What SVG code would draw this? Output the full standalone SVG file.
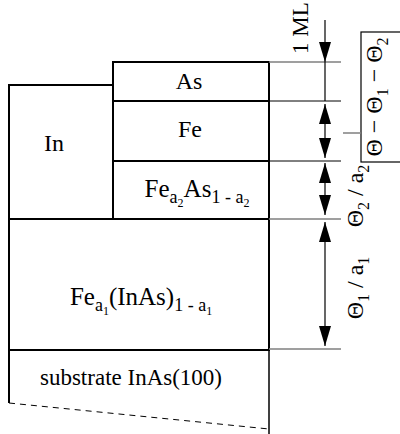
<svg xmlns="http://www.w3.org/2000/svg" width="400" height="434" viewBox="0 0 400 434">
<style>
.box{fill:#fff;stroke:#000;stroke-width:2}
.t{font-family:"Liberation Serif","Times New Roman",serif;fill:#000}
.ext{stroke:#808080;stroke-width:1.5;fill:none}
.extd{stroke:#000;stroke-width:1;fill:none}
.arr{stroke:#000;stroke-width:1.2;fill:none}
</style>
<defs>
<marker id="ah" markerUnits="userSpaceOnUse" markerWidth="20" markerHeight="12" refX="20" refY="6" orient="auto-start-reverse">
<path d="M0,0 L20,6 L0,12 z" fill="#000"/>
</marker>
</defs>
<g id="In"><rect class="box" x="9" y="85" width="104" height="134"/><text class="t" x="54" y="151" font-size="24" text-anchor="middle">In</text></g>
<g id="As"><rect class="box" x="113" y="62" width="156" height="39"/><text class="t" x="189" y="89" font-size="24" text-anchor="middle">As</text></g>
<g id="Fe"><rect class="box" x="113" y="101" width="156" height="60"/><text class="t" x="190" y="137" font-size="24" text-anchor="middle">Fe</text></g>
<g id="FeAs"><rect class="box" x="113" y="161" width="156" height="58"/><text class="t" x="197" y="197" font-size="25" text-anchor="middle">Fe<tspan font-size="18" dy="6">a</tspan><tspan font-size="12" dy="4">2</tspan><tspan dy="-10">As</tspan><tspan font-size="18" dy="6">1 - a</tspan><tspan font-size="12" dy="4">2</tspan></text></g>
<g id="FeInAs"><rect class="box" x="9" y="219" width="260" height="131"/><text class="t" x="141" y="305" font-size="25" text-anchor="middle">Fe<tspan font-size="18" dy="6">a</tspan><tspan font-size="12" dy="4">1</tspan><tspan dy="-10">(InAs)</tspan><tspan font-size="18" dy="6">1 - a</tspan><tspan font-size="12" dy="4">1</tspan></text></g>
<g id="substrate">
<path d="M9,350 V403" stroke="#000" stroke-width="2" fill="none"/>
<path d="M269,350 V434" stroke="#000" stroke-width="1.5" fill="none"/>
<path d="M9,403 L269,429" stroke="#000" stroke-width="1" stroke-dasharray="6,5" fill="none"/>
<text class="t" x="131" y="385" font-size="23" text-anchor="middle">substrate InAs(100)</text>
</g>
<g id="total">
<rect x="361" y="32" width="50" height="130" fill="#fff" stroke="#000" stroke-width="1.2"/>
<text class="t" transform="translate(382,97) rotate(-90)" text-anchor="middle" font-size="24">Θ − Θ<tspan font-size="16" dy="6">1</tspan><tspan dy="-6"> − Θ</tspan><tspan font-size="16" dy="6">2</tspan></text>
</g>
<g id="labels">
<text class="t" transform="translate(308,28) rotate(-90)" text-anchor="middle" font-size="23">1 ML</text>
<text class="t" transform="translate(363,196) rotate(-90)" text-anchor="middle" font-size="24">Θ<tspan font-size="16" dy="6">2</tspan><tspan dy="-6"> / a</tspan><tspan font-size="16" dy="6">2</tspan></text>
<text class="t" transform="translate(363,288) rotate(-90)" text-anchor="middle" font-size="24">Θ<tspan font-size="16" dy="6">1</tspan><tspan dy="-6"> / a</tspan><tspan font-size="16" dy="6">1</tspan></text>
</g>
<g id="connectors">
<path class="ext" d="M269,62 H341 M269,219 H341 M269,349 H341 M343,133 H361"/>
<path class="extd" d="M269,101 H341 M269,161 H341"/>
<path class="arr" d="M325,20 V62" marker-end="url(#ah)"/>
<path class="arr" d="M325,62 V101"/>
<path class="arr" d="M325,104 V158" marker-start="url(#ah)" marker-end="url(#ah)"/>
<path class="arr" d="M325,163 V215" marker-start="url(#ah)" marker-end="url(#ah)"/>
<path class="arr" d="M325,222 V346" marker-start="url(#ah)" marker-end="url(#ah)"/>
</g>
</svg>
